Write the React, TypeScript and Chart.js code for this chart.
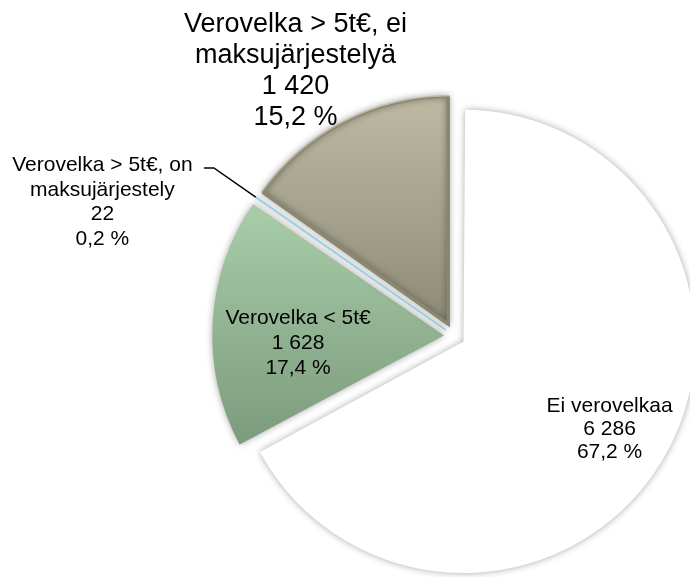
import React, { useEffect, useRef } from "react";
import { Chart, registerables } from "chart.js";

Chart.register(...registerables);

// ---- data ----
const categoryLines: string[][] = [
  ["Ei verovelkaa"],
  ["Verovelka < 5t€"],
  ["Verovelka > 5t€, on", "maksujärjestely"],
  ["Verovelka > 5t€, ei", "maksujärjestelyä"],
];
const categories = categoryLines.map((l) => l.join(" "));
const counts = [6286, 1628, 22, 1420];

// ---- styling / label placement ----
const RADIUS = 232;
const EXPLODE = 10.5; // px each slice is pulled out
const labelDistance = [0.734, 0.63, 1.58, 1.287];
const labelAngleShift = [0, -6.3, -14.5, -3.77];
const labelFontSize = [21, 21, 21, 27];
const labelLineHeight = [23, 25, 24.5, 31];
const hasLeader = [false, false, true, false];
const leaderElbow = 1.22;
const FONT = '"Liberation Sans", Arial, Helvetica, sans-serif';

const total = counts.reduce((a, b) => a + b, 0);
const fmtInt = (n: number) => String(n).replace(/\B(?=(\d{3})+(?!\d))/g, " ");
const fmtPct = (n: number) => ((n / total) * 100).toFixed(1).replace(".", ",") + " %";

const radiusFix = {
  id: "radiusFix",
  beforeDatasetDraw(chart: any, args: any) {
    args.meta.data.forEach((arc: any) => {
      const off = (arc.options.offset || 0) / 4;
      const fix = 1 - Math.sin(Math.min(Math.PI, arc.circumference || 0));
      arc.$savedR = arc.outerRadius;
      arc.outerRadius = arc.outerRadius - off * fix;
    });
    const c = chart.ctx;
    c.save();
    c.shadowColor = "rgba(0,0,0,0.35)";
    c.shadowBlur = 7;
    c.shadowOffsetX = 0;
    c.shadowOffsetY = 0;
  },
  afterDatasetDraw(chart: any, args: any) {
    chart.ctx.restore();
    args.meta.data.forEach((arc: any) => {
      if (arc.$savedR !== undefined) arc.outerRadius = arc.$savedR;
    });
  },
};

const labelPlugin = {
  id: "sliceLabels",
  afterDatasetsDraw(chart: any) {
    const meta = chart.getDatasetMeta(0);
    const ctx = chart.ctx;
    ctx.save();
    ctx.fillStyle = "#000";
    ctx.textAlign = "center";
    ctx.textBaseline = "middle";
    meta.data.forEach((arc: any, i: number) => {
      const { x, y, startAngle, endAngle, outerRadius } = arc;
      const mid = (startAngle + endAngle) / 2;
      const t = (arc.options.offset || 0) / 4;
      const cx = x + Math.cos(mid) * t;
      const cy = y + Math.sin(mid) * t;
      const a = mid + (labelAngleShift[i] * Math.PI) / 180;
      const d = outerRadius * labelDistance[i];
      const lx = cx + Math.cos(a) * d;
      const ly = cy + Math.sin(a) * d;
      const lines = [...categoryLines[i], fmtInt(counts[i]), fmtPct(counts[i])];
      const lh = labelLineHeight[i];
      ctx.font = `${labelFontSize[i]}px ${FONT}`;
      const y0 = ly - ((lines.length - 1) * lh) / 2;
      lines.forEach((s, k) => ctx.fillText(s, lx, y0 + k * lh));
      if (hasLeader[i]) {
        const ex = cx + Math.cos(mid) * outerRadius;
        const ey = cy + Math.sin(mid) * outerRadius;
        const bx = cx + Math.cos(mid) * outerRadius * leaderElbow;
        const by = cy + Math.sin(mid) * outerRadius * leaderElbow;
        ctx.beginPath();
        ctx.strokeStyle = "#000";
        ctx.lineWidth = 1.5;
        ctx.moveTo(ex, ey);
        ctx.lineTo(bx, by);
        ctx.lineTo(bx - 10, by);
        ctx.stroke();
      }
    });
    ctx.restore();
  },
};

export default function App() {
  const ref = useRef<HTMLCanvasElement | null>(null);
  useEffect(() => {
    if (!ref.current) return;
    const R = RADIUS;
    const grad = (chart: any, from: number, to: number, c1: string, c2: string) => {
      const area = chart.chartArea;
      if (!area) return c1;
      const cy = (area.top + area.bottom) / 2;
      const g = chart.ctx.createLinearGradient(0, cy + from * R, 0, cy + to * R);
      g.addColorStop(0, c1);
      g.addColorStop(1, c2);
      return g;
    };
    const chart = new Chart(ref.current, {
      type: "pie",
      data: {
        labels: categories,
        datasets: [
          {
            data: counts,
            radius: R,
            clip: false,
            offset: EXPLODE * 4,
            backgroundColor: (c: any) => {
              const i = c.dataIndex;
              if (i === 0) return "#ffffff";
              if (i === 1) return grad(c.chart, -0.55, 0.47, "#a8cca8", "#7c9b7c");
              if (i === 2) return "#9fd3e3";
              return grad(c.chart, -1, 0, "#bebaa4", "#8c8a76");
            },
            borderColor: ["#ffffff", "#9ebf9e", "#9fd3e3", "#8b8870"],
            borderWidth: [0, 0, 2, 3],
            borderAlign: ["inner", "inner", "center", "inner"],
            hoverOffset: 0,
          } as any,
        ],
      },
      options: {
        responsive: false,
        animation: false,
        layout: { padding: { left: 219, right: 0, top: 95, bottom: 0 } },
        plugins: {
          legend: { display: false },
          tooltip: { enabled: false },
        },
        events: [],
      } as any,
      plugins: [radiusFix, labelPlugin],
    });
    return () => chart.destroy();
  }, []);
  return (
    <div style={{ position: "fixed", left: 0, top: 0, width: 690, height: 577, background: "#fff" }}>
      <canvas ref={ref} width={690} height={577} style={{ display: "block" }} />
    </div>
  );
}
